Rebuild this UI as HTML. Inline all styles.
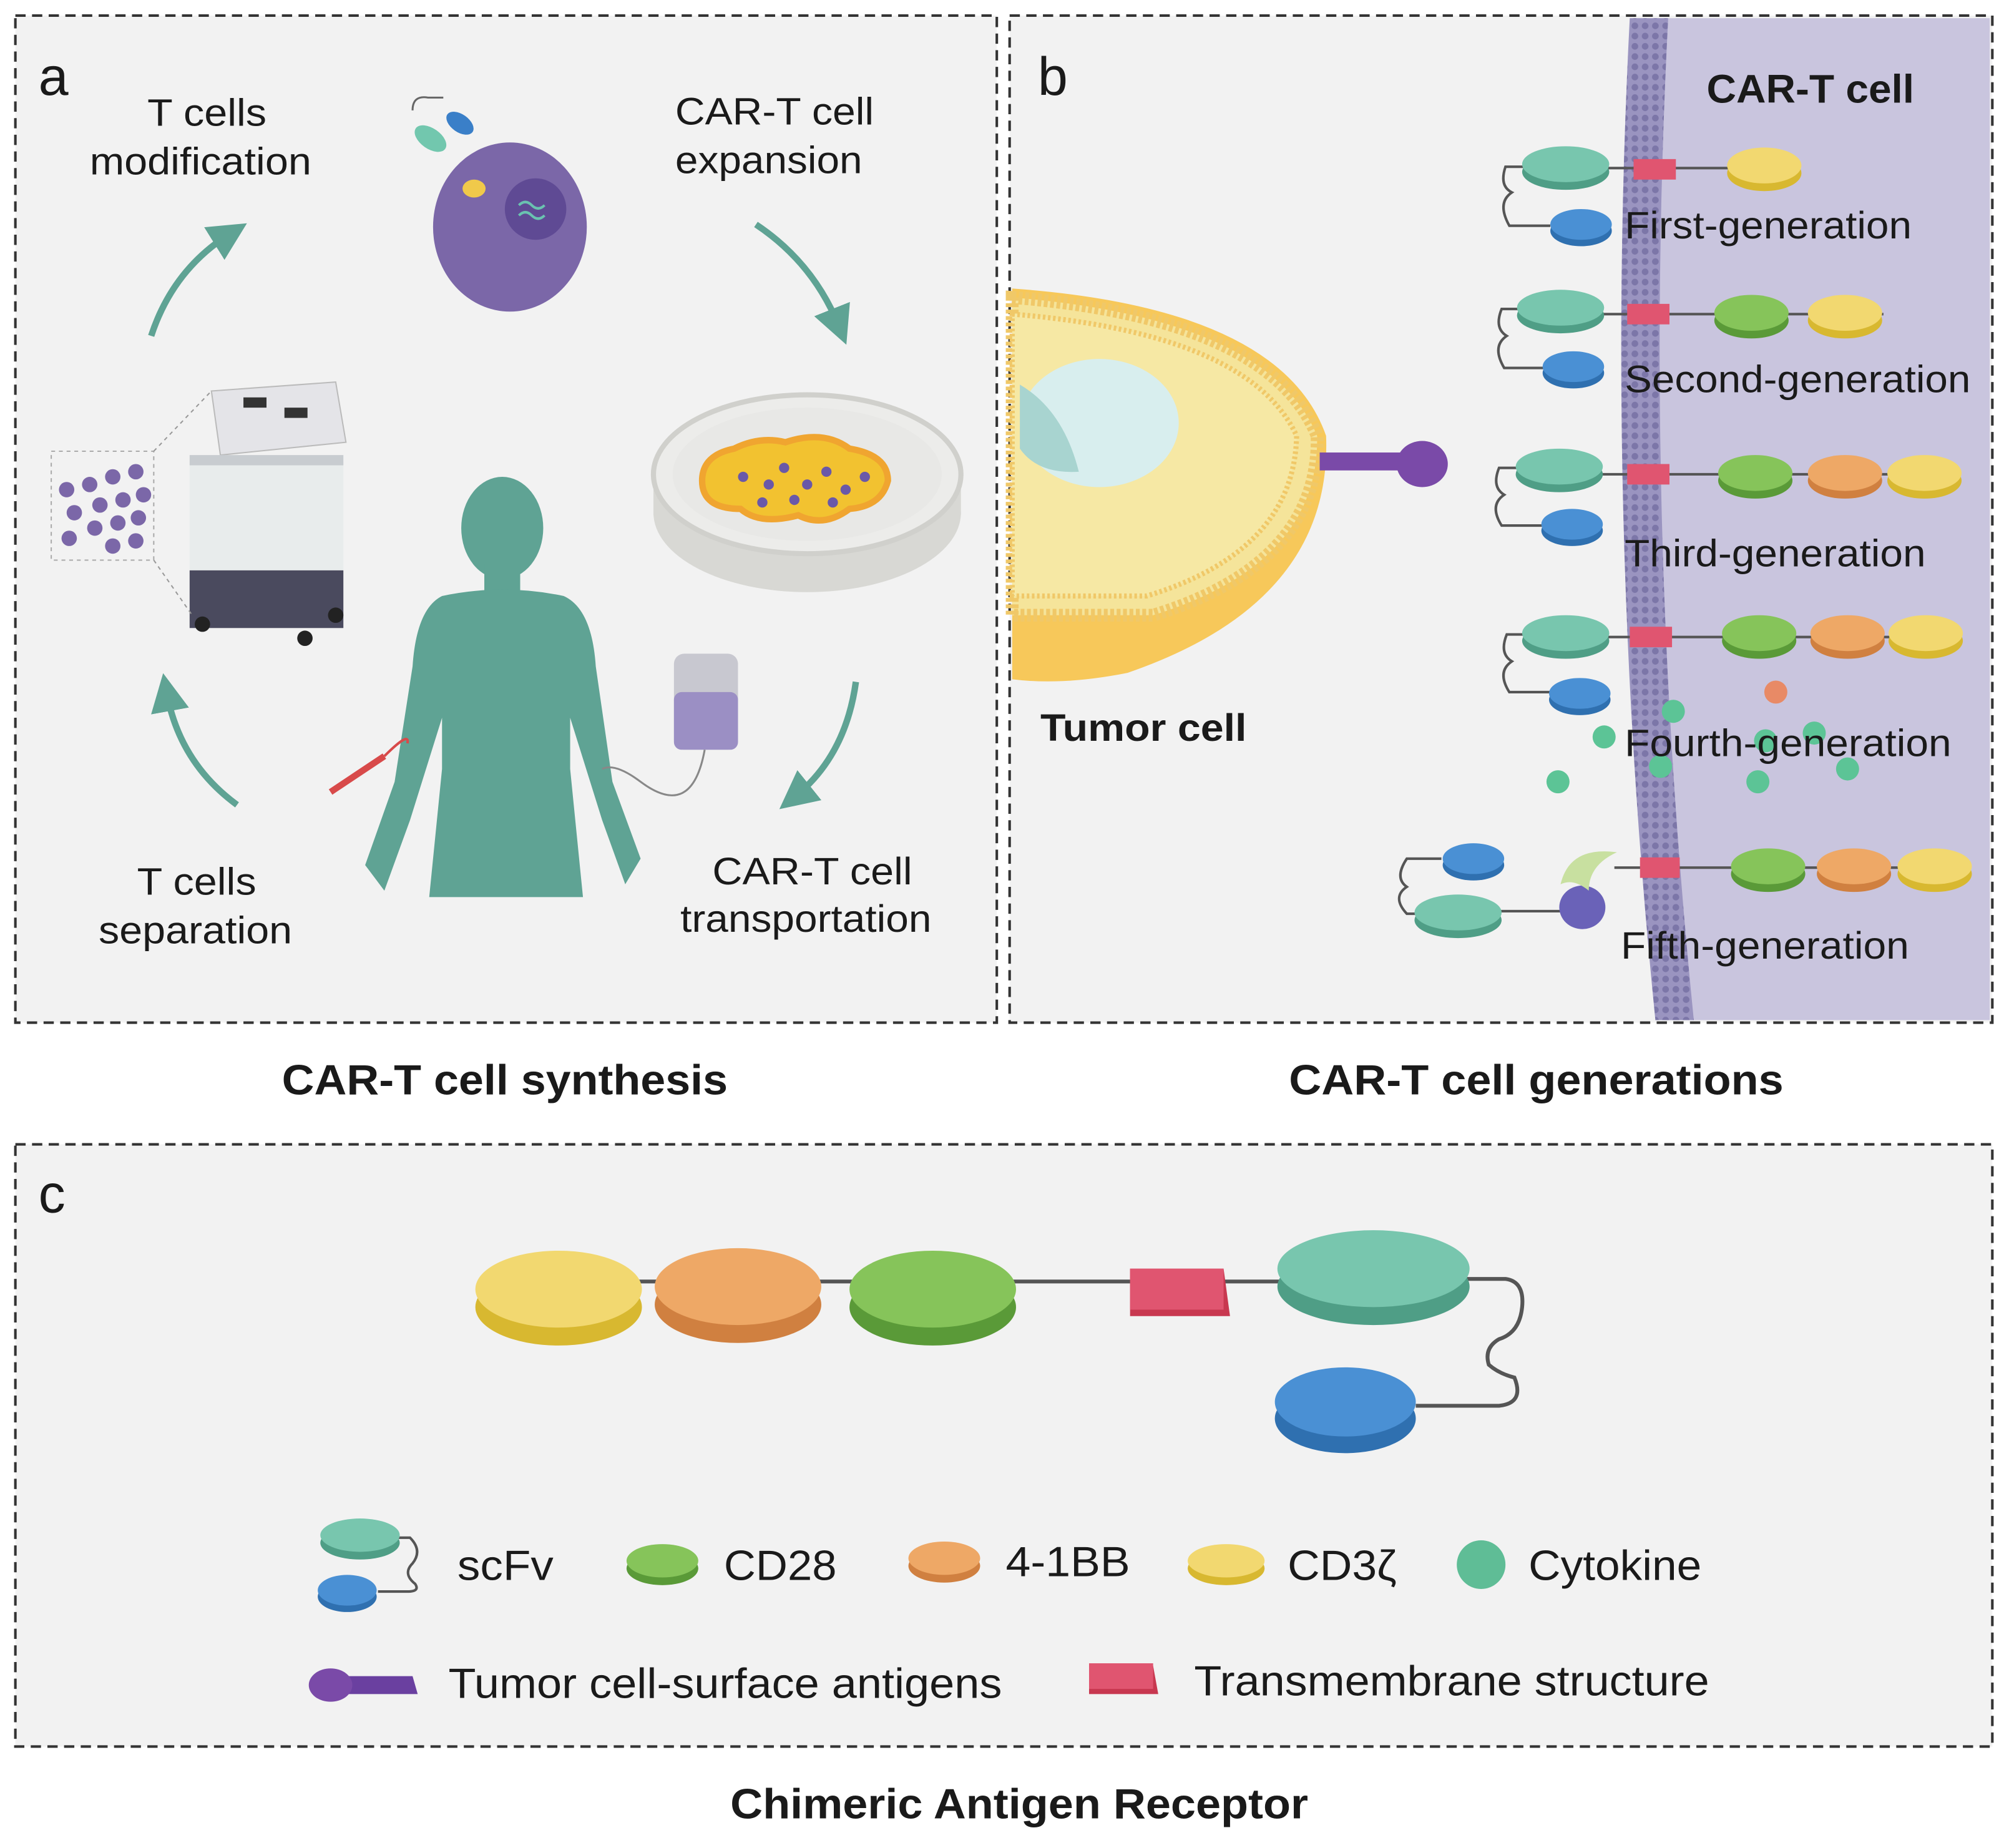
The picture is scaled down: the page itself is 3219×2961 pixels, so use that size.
<!DOCTYPE html>
<html><head><meta charset="utf-8"><style>
html,body{margin:0;padding:0;background:#fff}
svg{display:block}
text{font-family:"Liberation Sans",Arial,sans-serif;fill:#1a1a1a}
.b{font-weight:bold}
</style></head><body>
<svg width="3219" height="2961" viewBox="0 0 1568 1442" xmlns="http://www.w3.org/2000/svg">
<defs>
<pattern id="mem" width="8" height="8" patternUnits="userSpaceOnUse">
<rect width="8" height="8" fill="#9a94c0"/><circle cx="4" cy="4" r="2.6" fill="#7c76a8"/>
</pattern>
<marker id="ah" viewBox="0 0 10 10" refX="5" refY="5" markerWidth="6" markerHeight="6" orient="auto"><path d="M0,0 L10,5 L0,10 z" fill="#5fa394"/></marker>
</defs>
<rect width="1568" height="1442" fill="#fff"/>
<rect x="12" y="12" width="766" height="786" fill="#f2f2f2" stroke="#333" stroke-width="2" stroke-dasharray="8,5"/>
<rect x="788" y="12" width="767" height="786" fill="#f2f2f2" stroke="#333" stroke-width="2" stroke-dasharray="8,5"/>
<rect x="12" y="893" width="1543" height="470" fill="#f2f2f2" stroke="#333" stroke-width="2" stroke-dasharray="8,5"/>

<!-- PANEL A -->
<text x="30" y="74" font-size="42">a</text>
<text x="115" y="98" font-size="30" textLength="93" lengthAdjust="spacingAndGlyphs">T cells</text>
<text x="70" y="136" font-size="30" textLength="173" lengthAdjust="spacingAndGlyphs">modification</text>
<text x="527" y="97" font-size="30" textLength="155" lengthAdjust="spacingAndGlyphs">CAR-T cell</text>
<text x="527" y="135" font-size="30" textLength="146" lengthAdjust="spacingAndGlyphs">expansion</text>
<text x="107" y="698" font-size="30" textLength="93" lengthAdjust="spacingAndGlyphs">T cells</text>
<text x="77" y="736" font-size="30" textLength="151" lengthAdjust="spacingAndGlyphs">separation</text>
<text x="556" y="690" font-size="30" textLength="156" lengthAdjust="spacingAndGlyphs">CAR-T cell</text>
<text x="531" y="727" font-size="30" textLength="196" lengthAdjust="spacingAndGlyphs">transportation</text>
<path d="M118,262 Q135,210 180,182" fill="none" stroke="#5fa394" stroke-width="5" marker-end="url(#ah)"/>
<path d="M590,175 Q635,205 655,255" fill="none" stroke="#5fa394" stroke-width="5" marker-end="url(#ah)"/>
<path d="M668,532 Q660,590 620,622" fill="none" stroke="#5fa394" stroke-width="5" marker-end="url(#ah)"/>
<path d="M185,628 Q140,595 130,540" fill="none" stroke="#5fa394" stroke-width="5" marker-end="url(#ah)"/>
<ellipse cx="398" cy="177" rx="60" ry="66" fill="#7b67a8"/>
<circle cx="418" cy="163" r="24" fill="#5f4a94"/>
<path d="M405,160 q5,-5 10,0 t10,0 M405,168 q5,-5 10,0 t10,0" stroke="#6ac2b0" stroke-width="2" fill="none"/>
<ellipse cx="370" cy="147" rx="9" ry="7" fill="#f0c94a"/>
<ellipse cx="336" cy="108" rx="14" ry="8" fill="#72c7ae" transform="rotate(35 336 108)"/>
<ellipse cx="359" cy="96" rx="12" ry="7" fill="#3a7fc8" transform="rotate(35 359 96)"/>
<path d="M322,86 q0,-12 12,-10 l12,0" stroke="#666" stroke-width="1.5" fill="none"/>
<ellipse cx="630" cy="400" rx="120" ry="62" fill="#d8d8d4"/>
<rect x="510" y="370" width="240" height="32" fill="#d8d8d4"/>
<ellipse cx="630" cy="370" rx="120" ry="62" fill="#ececea" stroke="#d0d0cc" stroke-width="4"/>
<ellipse cx="630" cy="370" rx="105" ry="52" fill="#e8e8e6"/>
<path d="M548,375 q0,-20 25,-25 q20,-10 40,-5 q30,-10 50,5 q30,5 30,25 q-5,20 -30,22 q-20,15 -40,5 q-30,8 -45,-5 q-30,0 -30,-22z" fill="#f2c230" stroke="#f0a530" stroke-width="5"/>
<g fill="#6a58a8"><circle cx="580" cy="372" r="4"/><circle cx="600" cy="378" r="4"/><circle cx="612" cy="365" r="4"/><circle cx="630" cy="378" r="4"/><circle cx="645" cy="368" r="4"/><circle cx="660" cy="382" r="4"/><circle cx="675" cy="372" r="4"/><circle cx="620" cy="390" r="4"/><circle cx="650" cy="392" r="4"/><circle cx="595" cy="392" r="4"/></g>
<path d="M165,305 L262,298 L270,345 L172,355z" fill="#e4e4e8" stroke="#bbb"/>
<rect x="190" y="310" width="18" height="8" fill="#333"/><rect x="222" y="318" width="18" height="8" fill="#333"/>
<rect x="148" y="360" width="120" height="85" fill="#e8ecec"/>
<rect x="148" y="355" width="120" height="8" fill="#c8ccd0"/>
<rect x="148" y="445" width="120" height="45" fill="#4a4a5e"/>
<circle cx="158" cy="487" r="6" fill="#222"/><circle cx="238" cy="498" r="6" fill="#222"/><circle cx="262" cy="480" r="6" fill="#222"/>
<rect x="40" y="352" width="80" height="85" fill="none" stroke="#aaa" stroke-dasharray="3,3"/>
<path d="M120,352 L165,305 M120,437 L150,480" stroke="#999" stroke-dasharray="3,3"/>
<g fill="#7b67a8"><circle cx="52" cy="382" r="6"/><circle cx="70" cy="378" r="6"/><circle cx="88" cy="372" r="6"/><circle cx="106" cy="368" r="6"/><circle cx="58" cy="400" r="6"/><circle cx="78" cy="394" r="6"/><circle cx="96" cy="390" r="6"/><circle cx="112" cy="386" r="6"/><circle cx="54" cy="420" r="6"/><circle cx="74" cy="412" r="6"/><circle cx="92" cy="408" r="6"/><circle cx="108" cy="404" r="6"/><circle cx="88" cy="426" r="6"/><circle cx="106" cy="422" r="6"/></g>
<g fill="#5fa394">
<ellipse cx="392" cy="412" rx="32" ry="40"/>
<rect x="378" y="440" width="28" height="30"/>
<path d="M345,465 Q392,455 440,465 Q462,475 465,520 L478,610 L500,670 L488,690 L470,640 L445,560 L445,600 L455,700 L335,700 L345,600 L345,560 L320,640 L300,695 L285,675 L308,610 L322,520 Q325,475 345,465z"/>
</g>
<rect x="526" y="510" width="50" height="75" rx="8" fill="#c8c8d0"/>
<rect x="526" y="540" width="50" height="45" rx="6" fill="#9b8fc4"/>
<path d="M550,585 Q540,640 500,610 Q480,595 470,600" fill="none" stroke="#888" stroke-width="1.5"/>
<path d="M258,618 L300,590" stroke="#d84a4a" stroke-width="5"/>
<path d="M300,590 Q320,570 318,580" stroke="#d84a4a" stroke-width="2" fill="none"/>

<!-- PANEL B -->
<text x="810" y="74" font-size="42">b</text>
<path d="M1290,14 Q1270,400 1310,796 L1553,796 L1553,14z" fill="#c9c5de"/>
<path d="M1272,14 Q1252,400 1292,796 L1322,796 Q1282,400 1302,14z" fill="url(#mem)"/>
<text x="1332" y="80" font-size="31" class="b" textLength="162" lengthAdjust="spacingAndGlyphs">CAR-T cell</text>
<path d="M790,225 Q1000,240 1035,340 Q1040,470 880,525 Q830,535 790,530z" fill="#f7c85a"/>
<path d="M790,232 Q990,248 1028,340 Q1030,440 900,480 L790,480z" fill="#f5e49a" stroke="#f0c868" stroke-width="10" stroke-dasharray="3,2"/>
<path d="M790,245 Q975,260 1012,340 Q1010,430 895,465 L790,465z" fill="#f6e8a4" stroke="#f0c868" stroke-width="4" stroke-dasharray="2,2"/>
<ellipse cx="858" cy="330" rx="62" ry="50" fill="#d8eeee"/>
<path d="M796,300 Q830,320 842,368 Q810,370 796,350z" fill="#a8d4d0"/>
<text x="812" y="578" font-size="30" class="b" textLength="161" lengthAdjust="spacingAndGlyphs">Tumor cell</text>
<rect x="1030" y="353" width="70" height="14" fill="#7a4aa8"/>
<ellipse cx="1110" cy="362" rx="20" ry="18" fill="#7a4aa8"/>

<g>
<path d="M1190,130 L1175,130 Q1170,145 1180,150 Q1168,158 1178,176 L1210,176" stroke="#555" stroke-width="2" fill="none"/>
<line x1="1250" y1="131" x2="1350" y2="131" stroke="#555" stroke-width="2"/>
<ellipse cx="1222" cy="134" rx="34" ry="14" fill="#4f9e86"/><ellipse cx="1222" cy="128" rx="34" ry="14" fill="#78c6ae"/>
<ellipse cx="1234" cy="180" rx="24" ry="12" fill="#2f70b0"/><ellipse cx="1234" cy="175" rx="24" ry="12" fill="#4a90d4"/>
<rect x="1275" y="124" width="33" height="16" fill="#e05570"/>
<ellipse cx="1377" cy="135" rx="29" ry="14" fill="#d8b830"/><ellipse cx="1377" cy="129" rx="29" ry="14" fill="#f2d870"/>
<text x="1268" y="186" font-size="30" textLength="224" lengthAdjust="spacingAndGlyphs">First-generation</text>
</g>
<g>
<path d="M1186,241 L1172,241 Q1166,256 1176,262 Q1164,270 1174,287 L1205,287" stroke="#555" stroke-width="2" fill="none"/>
<line x1="1250" y1="245" x2="1470" y2="245" stroke="#555" stroke-width="2"/>
<ellipse cx="1218" cy="246" rx="34" ry="14" fill="#4f9e86"/><ellipse cx="1218" cy="240" rx="34" ry="14" fill="#78c6ae"/>
<ellipse cx="1228" cy="291" rx="24" ry="12" fill="#2f70b0"/><ellipse cx="1228" cy="286" rx="24" ry="12" fill="#4a90d4"/>
<rect x="1270" y="237" width="33" height="16" fill="#e05570"/>
<ellipse cx="1367" cy="250" rx="29" ry="14" fill="#5a9a38"/><ellipse cx="1367" cy="244" rx="29" ry="14" fill="#86c45a"/>
<ellipse cx="1440" cy="250" rx="29" ry="14" fill="#d8b830"/><ellipse cx="1440" cy="244" rx="29" ry="14" fill="#f2d870"/>
<text x="1268" y="306" font-size="30" textLength="270" lengthAdjust="spacingAndGlyphs">Second-generation</text>
</g>
<g>
<path d="M1185,365 L1170,365 Q1164,380 1174,386 Q1162,394 1172,410 L1205,410" stroke="#555" stroke-width="2" fill="none"/>
<line x1="1250" y1="370" x2="1530" y2="370" stroke="#555" stroke-width="2"/>
<ellipse cx="1217" cy="370" rx="34" ry="14" fill="#4f9e86"/><ellipse cx="1217" cy="364" rx="34" ry="14" fill="#78c6ae"/>
<ellipse cx="1227" cy="414" rx="24" ry="12" fill="#2f70b0"/><ellipse cx="1227" cy="409" rx="24" ry="12" fill="#4a90d4"/>
<rect x="1270" y="362" width="33" height="16" fill="#e05570"/>
<ellipse cx="1370" cy="375" rx="29" ry="14" fill="#5a9a38"/><ellipse cx="1370" cy="369" rx="29" ry="14" fill="#86c45a"/>
<ellipse cx="1440" cy="375" rx="29" ry="14" fill="#d08040"/><ellipse cx="1440" cy="369" rx="29" ry="14" fill="#eea866"/>
<ellipse cx="1502" cy="375" rx="29" ry="14" fill="#d8b830"/><ellipse cx="1502" cy="369" rx="29" ry="14" fill="#f2d870"/>
<text x="1268" y="442" font-size="30" textLength="235" lengthAdjust="spacingAndGlyphs">Third-generation</text>
</g>
<g>
<path d="M1190,495 L1176,495 Q1170,510 1180,516 Q1168,524 1178,540 L1210,540" stroke="#555" stroke-width="2" fill="none"/>
<line x1="1255" y1="497" x2="1530" y2="497" stroke="#555" stroke-width="2"/>
<ellipse cx="1222" cy="500" rx="34" ry="14" fill="#4f9e86"/><ellipse cx="1222" cy="494" rx="34" ry="14" fill="#78c6ae"/>
<ellipse cx="1233" cy="546" rx="24" ry="12" fill="#2f70b0"/><ellipse cx="1233" cy="541" rx="24" ry="12" fill="#4a90d4"/>
<rect x="1272" y="489" width="33" height="16" fill="#e05570"/>
<ellipse cx="1373" cy="500" rx="29" ry="14" fill="#5a9a38"/><ellipse cx="1373" cy="494" rx="29" ry="14" fill="#86c45a"/>
<ellipse cx="1442" cy="500" rx="29" ry="14" fill="#d08040"/><ellipse cx="1442" cy="494" rx="29" ry="14" fill="#eea866"/>
<ellipse cx="1503" cy="500" rx="29" ry="14" fill="#d8b830"/><ellipse cx="1503" cy="494" rx="29" ry="14" fill="#f2d870"/>
<g fill="#5cc496"><circle cx="1306" cy="555" r="9"/><circle cx="1252" cy="575" r="9"/><circle cx="1296" cy="598" r="9"/><circle cx="1216" cy="610" r="9"/><circle cx="1378" cy="578" r="9"/><circle cx="1416" cy="572" r="9"/><circle cx="1372" cy="610" r="9"/><circle cx="1442" cy="600" r="9"/></g>
<circle cx="1386" cy="540" r="9" fill="#e88a66"/>
<text x="1268" y="590" font-size="30" textLength="255" lengthAdjust="spacingAndGlyphs">Fourth-generation</text>
</g>
<g>
<path d="M1125,670 L1098,670 Q1088,685 1098,692 Q1086,700 1098,713 L1110,713" stroke="#555" stroke-width="2" fill="none"/>
<line x1="1170" y1="711" x2="1220" y2="711" stroke="#555" stroke-width="2"/>
<line x1="1260" y1="677" x2="1530" y2="677" stroke="#555" stroke-width="2"/>
<ellipse cx="1150" cy="675" rx="24" ry="12" fill="#2f70b0"/><ellipse cx="1150" cy="670" rx="24" ry="12" fill="#4a90d4"/>
<ellipse cx="1138" cy="718" rx="34" ry="14" fill="#4f9e86"/><ellipse cx="1138" cy="712" rx="34" ry="14" fill="#78c6ae"/>
<ellipse cx="1235" cy="708" rx="18" ry="17" fill="#6a62b8"/>
<path d="M1218,690 Q1225,660 1262,665 Q1240,675 1240,695 Q1228,685 1218,690z" fill="#c8e0a0"/>
<rect x="1280" y="669" width="31" height="16" fill="#e05570"/>
<ellipse cx="1380" cy="682" rx="29" ry="14" fill="#5a9a38"/><ellipse cx="1380" cy="676" rx="29" ry="14" fill="#86c45a"/>
<ellipse cx="1447" cy="682" rx="29" ry="14" fill="#d08040"/><ellipse cx="1447" cy="676" rx="29" ry="14" fill="#eea866"/>
<ellipse cx="1510" cy="682" rx="29" ry="14" fill="#d8b830"/><ellipse cx="1510" cy="676" rx="29" ry="14" fill="#f2d870"/>
<text x="1265" y="748" font-size="30" textLength="225" lengthAdjust="spacingAndGlyphs">Fifth-generation</text>
</g>

<text x="220" y="854" font-size="33" class="b" textLength="348" lengthAdjust="spacingAndGlyphs">CAR-T cell synthesis</text>
<text x="1006" y="854" font-size="33" class="b" textLength="386" lengthAdjust="spacingAndGlyphs">CAR-T cell generations</text>
<text x="570" y="1419" font-size="33" class="b" textLength="451" lengthAdjust="spacingAndGlyphs">Chimeric Antigen Receptor</text>

<!-- PANEL C -->
<text x="30" y="946" font-size="42">c</text>
<line x1="495" y1="1000" x2="1000" y2="1000" stroke="#555" stroke-width="3"/>
<path d="M1145,998 L1175,998 Q1190,1000 1188,1020 Q1186,1040 1170,1045 Q1158,1052 1162,1065 Q1170,1072 1182,1075 Q1190,1095 1170,1097 L1105,1097" stroke="#555" stroke-width="3" fill="none"/>
<ellipse cx="436" cy="1020" rx="65" ry="30" fill="#d8b830"/><ellipse cx="436" cy="1006" rx="65" ry="30" fill="#f2d870"/>
<ellipse cx="576" cy="1018" rx="65" ry="30" fill="#d08040"/><ellipse cx="576" cy="1004" rx="65" ry="30" fill="#eea866"/>
<ellipse cx="728" cy="1020" rx="65" ry="30" fill="#5a9a38"/><ellipse cx="728" cy="1006" rx="65" ry="30" fill="#86c45a"/>
<path d="M882,990 L955,990 L960,1027 L882,1027z" fill="#c83850"/>
<rect x="882" y="990" width="73" height="32" fill="#e05570"/>
<ellipse cx="1072" cy="1004" rx="75" ry="30" fill="#4f9e86"/><ellipse cx="1072" cy="990" rx="75" ry="30" fill="#78c6ae"/>
<ellipse cx="1050" cy="1107" rx="55" ry="27" fill="#2f70b0"/><ellipse cx="1050" cy="1094" rx="55" ry="27" fill="#4a90d4"/>

<path d="M310,1200 L320,1200 Q330,1210 322,1220 Q314,1228 324,1236 Q328,1242 318,1242 L295,1242" stroke="#555" stroke-width="2" fill="none"/>
<ellipse cx="281" cy="1204" rx="31" ry="13" fill="#4f9e86"/><ellipse cx="281" cy="1198" rx="31" ry="13" fill="#78c6ae"/>
<ellipse cx="271" cy="1246" rx="23" ry="12" fill="#2f70b0"/><ellipse cx="271" cy="1241" rx="23" ry="12" fill="#4a90d4"/>
<text x="357" y="1233" font-size="33" textLength="75" lengthAdjust="spacingAndGlyphs">scFv</text>
<ellipse cx="517" cy="1224" rx="28" ry="13" fill="#5a9a38"/><ellipse cx="517" cy="1218" rx="28" ry="13" fill="#86c45a"/>
<text x="565" y="1233" font-size="33" textLength="88" lengthAdjust="spacingAndGlyphs">CD28</text>
<ellipse cx="737" cy="1222" rx="28" ry="13" fill="#d08040"/><ellipse cx="737" cy="1216" rx="28" ry="13" fill="#eea866"/>
<text x="785" y="1230" font-size="33" textLength="97" lengthAdjust="spacingAndGlyphs">4-1BB</text>
<ellipse cx="957" cy="1224" rx="30" ry="13" fill="#d8b830"/><ellipse cx="957" cy="1218" rx="30" ry="13" fill="#f2d870"/>
<text x="1005" y="1233" font-size="33" textLength="85" lengthAdjust="spacingAndGlyphs">CD3ζ</text>
<circle cx="1156" cy="1221" r="19" fill="#5fbd96"/>
<text x="1193" y="1233" font-size="33" textLength="135" lengthAdjust="spacingAndGlyphs">Cytokine</text>
<path d="M262,1308 L322,1308 L326,1322 L262,1322z" fill="#6a40a0"/>
<ellipse cx="258" cy="1315" rx="17" ry="13" fill="#7a4aa8"/>
<text x="350" y="1325" font-size="33" textLength="432" lengthAdjust="spacingAndGlyphs">Tumor cell-surface antigens</text>
<path d="M850,1300 L900,1300 L904,1322 L850,1322z" fill="#c83850"/>
<rect x="850" y="1298" width="50" height="20" fill="#e05570"/>
<text x="932" y="1323" font-size="33" textLength="402" lengthAdjust="spacingAndGlyphs">Transmembrane structure</text>
</svg>
</body></html>
